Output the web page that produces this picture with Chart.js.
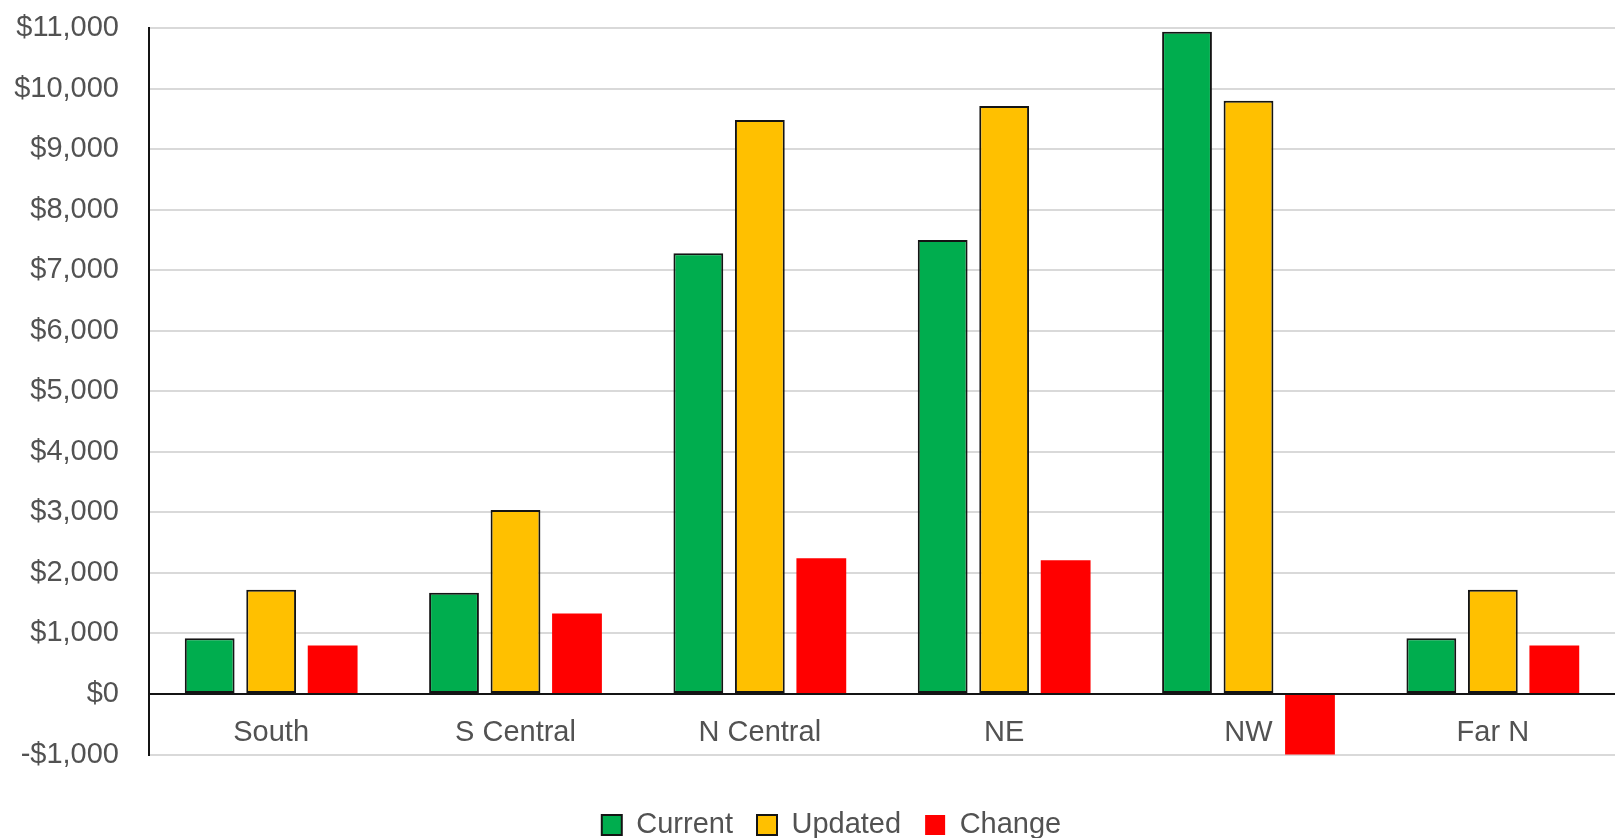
<!DOCTYPE html>
<html>
<head>
<meta charset="utf-8">
<script src="https://cdn.jsdelivr.net/npm/chart.js@4"></script>
<style>
html,body{margin:0;padding:0;background:#fff;}
#wrap{width:1615px;height:838px;}
</style>
</head>
<body>
<div id="wrap"><canvas id="c" width="1615" height="838"></canvas></div>
<script>
const categories = ["South", "S Central", "N Central", "NE", "NW", "Far N"];
const currentValues = [920, 1670, 7280, 7500, 10940, 920];
const updatedValues = [1720, 3040, 9480, 9710, 9800, 1720];
const changeValues = [800, 1330, 2240, 2210, -1140, 800];
const yMin = -1000, yMax = 11000, yStep = 1000;

const textColor = '#525252';
const font = {family: '"Liberation Sans", Arial, sans-serif', size: 29};

const legendShift = {
  id: 'legendShift',
  afterLayout(chart) {
    const lg = chart.legend;
    if (!lg) return;
    const dx = 24, dy = 32;
    lg.left += dx; lg.right += dx;
    lg.top += dy; lg.bottom += dy;
  }
};

function zeroPad(scale) {
  scale.paddingTop = 0; scale.paddingBottom = 0;
  scale.paddingLeft = 0; scale.paddingRight = 0;
}

new Chart(document.getElementById('c'), {
  type: 'bar',
  data: {
    labels: categories,
    datasets: [
      {label: 'Current', data: currentValues, backgroundColor: '#00ad4e', borderColor: '#141414', borderWidth: 2, borderSkipped: false},
      {label: 'Updated', data: updatedValues, backgroundColor: '#ffc000', borderColor: '#141414', borderWidth: 2, borderSkipped: false},
      {label: 'Change', data: changeValues, backgroundColor: '#ff0000', borderWidth: 0, borderSkipped: false}
    ]
  },
  options: {
    responsive: false,
    animation: false,
    devicePixelRatio: 1,
    datasets: {bar: {categoryPercentage: 0.755, barPercentage: 0.81}},
    layout: {padding: {left: 0, right: 0, top: 28, bottom: 20.5}},
    scales: {
      x: {
        position: {y: 0},
        afterFit: zeroPad,
        grid: {display: false, drawTicks: false},
        border: {display: true, color: '#141414', width: 2, z: 1},
        ticks: {color: textColor, font: font, padding: 22, maxRotation: 0}
      },
      y: {
        min: yMin, max: yMax,
        afterFit(scale) { scale.width = 149; zeroPad(scale); },
        grid: {color: '#d9d9d9', lineWidth: 2, drawTicks: false},
        border: {display: true, color: '#141414', width: 2, z: 1},
        ticks: {
          stepSize: yStep, color: textColor, font: font, padding: 30,
          callback: v => (v < 0 ? '-$' : '$') + Math.abs(v).toLocaleString('en-US')
        }
      }
    },
    plugins: {
      legend: {
        position: 'bottom',
        labels: {color: textColor, font: font, boxWidth: 20, boxHeight: 20, padding: 24}
      },
      tooltip: {enabled: false}
    }
  },
  plugins: [legendShift]
});
</script>
</body>
</html>
